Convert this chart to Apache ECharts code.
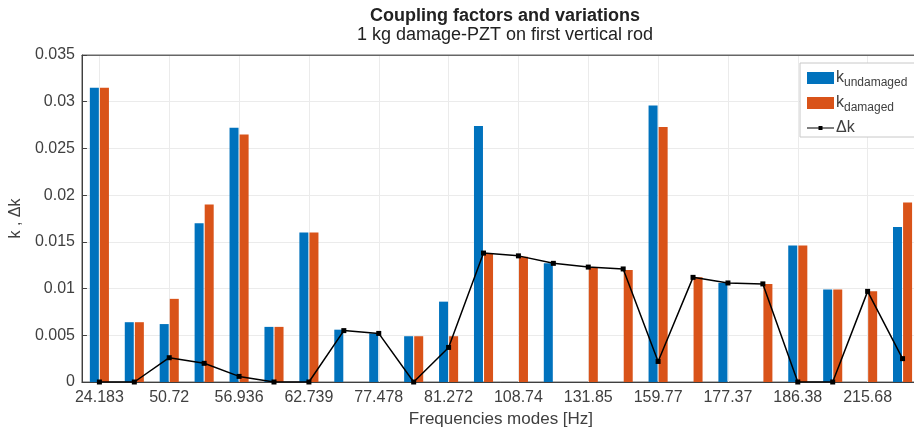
<!DOCTYPE html>
<html>
<head>
<meta charset="utf-8">
<script src="https://cdn.jsdelivr.net/npm/echarts@6/dist/echarts.min.js"></script>
<style>
  html, body { margin: 0; padding: 0; background: #fff; overflow: hidden; }
  #chart { width: 940px; height: 436px; }
</style>
</head>
<body>
<div id="chart"></div>
<script>
// mode frequencies, only every second one is labelled on the axis
const modeLabels = ['24.183', '', '50.72', '', '56.936', '', '62.739', '', '77.478', '', '81.272', '',
  '108.74', '', '131.85', '', '159.77', '', '177.37', '', '186.38', '', '215.68', ''];
const kUndamaged = [0.0315, 0.0064, 0.0062, 0.0170, 0.0272, 0.0059, 0.0160, 0.0056, 0.0052, 0.0049, 0.0086, 0.0274,
  0, 0.0127, 0, 0, 0.0296, 0, 0.0106, 0, 0.0146, 0.0099, 0, 0.0166];
const kDamaged = [0.0315, 0.0064, 0.0089, 0.0190, 0.0265, 0.0059, 0.0160, 0, 0, 0.0049, 0.0049, 0.0137,
  0.0134, 0, 0.0123, 0.0120, 0.0273, 0.0112, 0, 0.0105, 0.0146, 0.0099, 0.0097, 0.0192];
const deltaK = [0, 0, 0.0026, 0.0020, 0.0006, 0, 0, 0.0055, 0.0052, 0, 0.0037, 0.0138,
  0.0135, 0.0127, 0.0123, 0.0121, 0.0022, 0.0112, 0.0106, 0.0105, 0, 0, 0.0097, 0.0025];
const yTicks = { min: 0, max: 0.035, step: 0.005 };

const txt = '#404040';
const font = "'Liberation Sans', Arial, sans-serif";

const chart = echarts.init(document.getElementById('chart'));
chart.setOption({
  animation: false,
  textStyle: { fontFamily: font, color: txt },
  title: {
    text: 'Coupling factors and variations',
    subtext: '1 kg damage-PZT on first vertical rod',
    left: 500,
    textAlign: 'center',
    top: 2,
    itemGap: 1,
    textStyle: { fontSize: 18, fontWeight: 'bold', color: '#222', fontFamily: font },
    subtextStyle: { fontSize: 18, color: '#222', fontFamily: font }
  },
  grid: { left: 80, top: 55, width: 840, height: 327, show: true, borderColor: '#666', borderWidth: 1, containLabel: false },
  legend: {
    orient: 'vertical',
    left: 800,
    top: 63,
    padding: [7, 40, 1, 7],
    itemWidth: 27,
    itemHeight: 12,
    itemGap: 6,
    backgroundColor: '#fff',
    borderColor: '#c8c8c8',
    borderWidth: 1,
    borderRadius: 0,
    data: [
      { name: 'kU', icon: 'rect' },
      { name: 'kD', icon: 'rect' },
      { name: 'dk', icon: 'path://M0,4.4 H27 V5.6 H0 Z M11.5,3 H15.5 V7 H11.5 Z' }
    ],
    formatter: function (name) {
      if (name === 'kU') return '{k|k}{s|undamaged}';
      if (name === 'kD') return '{k|k}{s|damaged}';
      return '{k|\u0394k}';
    },
    textStyle: {
      color: txt,
      padding: [0, 0, 0, -3],
      rich: {
        k: { fontSize: 16, fontFamily: font, color: txt },
        s: { fontSize: 12, fontFamily: font, color: txt, padding: [10, 0, 0, 0] }
      }
    }
  },
  xAxis: [
    {
      type: 'category',
      data: modeLabels,
      name: 'Frequencies modes [Hz]',
      nameLocation: 'middle',
      nameGap: 28,
      nameTextStyle: { fontSize: 17, color: txt, fontFamily: font },
      axisLine: { lineStyle: { color: '#404040' } },
      axisTick: { alignWithLabel: true, interval: 1, inside: true, length: 5, lineStyle: { color: '#404040' } },
      axisLabel: { interval: 1, fontSize: 16, color: txt, fontFamily: font, margin: 8 },
      splitLine: { show: true, alignWithLabel: true, interval: 1, lineStyle: { color: '#ebebeb' } }
    },
    {
      // top edge of the box, ticks only
      type: 'category',
      position: 'top',
      data: modeLabels,
      axisLine: { lineStyle: { color: '#666' } },
      axisTick: { alignWithLabel: true, interval: 1, inside: true, length: 5, lineStyle: { color: '#404040' } },
      axisLabel: { show: false },
      splitLine: { show: false }
    }
  ],
  yAxis: {
    type: 'value',
    min: yTicks.min,
    max: yTicks.max,
    interval: yTicks.step,
    name: 'k , \u0394k',
    nameLocation: 'middle',
    nameGap: 54,
    nameTextStyle: { fontSize: 16, color: txt, fontFamily: font },
    axisLine: { show: true, lineStyle: { color: '#404040' } },
    axisTick: { show: true, inside: true, length: 5, lineStyle: { color: '#404040' } },
    axisLabel: {
      fontSize: 16, color: txt, fontFamily: font, margin: 7,
      formatter: function (v) { return String(+v.toFixed(3)); }
    },
    splitLine: { lineStyle: { color: '#ebebeb' } }
  },
  series: [
    { name: 'kU', type: 'bar', data: kUndamaged, barWidth: 9, barGap: '12%', itemStyle: { color: '#0072BD' } },
    { name: 'kD', type: 'bar', data: kDamaged, barWidth: 9, barGap: '12%', itemStyle: { color: '#D95319' } },
    {
      name: 'dk', type: 'line', data: deltaK, symbol: 'rect', symbolSize: 5,
      lineStyle: { color: '#000', width: 1.5 }, itemStyle: { color: '#000' }, z: 5
    }
  ]
});
</script>
</body>
</html>
